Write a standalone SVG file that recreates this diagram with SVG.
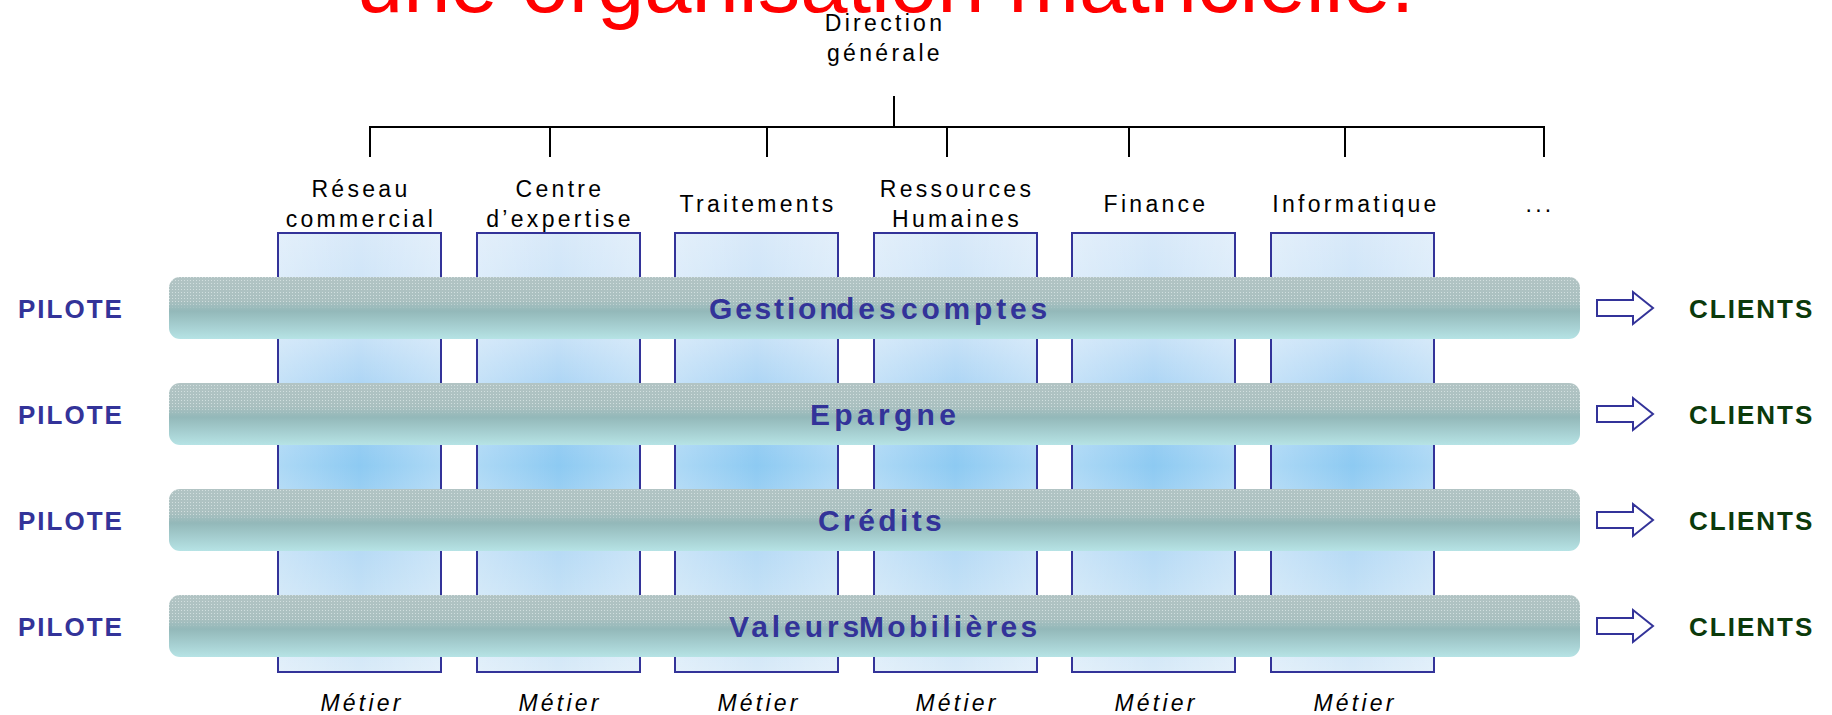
<svg xmlns="http://www.w3.org/2000/svg" width="1832" height="715" viewBox="0 0 1832 715">
  <style>
    .hdr { font-family: "Liberation Sans", Arial, sans-serif; font-size: 23px; fill: #000; letter-spacing: 3.3px; text-anchor: middle; }
    .metier { font-family: "Liberation Sans", Arial, sans-serif; font-size: 23px; font-style: italic; fill: #000; letter-spacing: 3.2px; text-anchor: middle; }
    .side { font-family: "Liberation Sans", Arial, sans-serif; font-size: 26px; font-weight: bold; letter-spacing: 2px; }
    .pilote { fill: #333399; }
    .clients { fill: #0b3a0b; }
    .barlabel { font-family: "Liberation Sans", Arial, sans-serif; font-size: 30px; font-weight: bold; fill: #333399; }
    .col { fill: url(#colFill); stroke: #333399; stroke-width: 2; }
    .colEdge { fill: url(#colEdges); stroke: none; }
    .bar { fill: url(#barFill); }
    .barTex { fill: url(#dots); }
    .tree { fill: none; stroke: #000; stroke-width: 2; }
    .arrow { fill: #fff; stroke: #333399; stroke-width: 2; stroke-linejoin: miter; }
  </style>
  <defs>
    <linearGradient id="colFill" x1="0" y1="0" x2="0" y2="1">
      <stop offset="0" stop-color="#d8e9f9"/>
      <stop offset="0.24" stop-color="#c6e1f7"/>
      <stop offset="0.34" stop-color="#aed6f5"/>
      <stop offset="0.53" stop-color="#8dcaf2"/>
      <stop offset="0.72" stop-color="#b6daf5"/>
      <stop offset="0.83" stop-color="#c4e1f6"/>
      <stop offset="1" stop-color="#d8eaf8"/>
    </linearGradient>
    <linearGradient id="colEdges" x1="0" y1="0" x2="1" y2="0">
      <stop offset="0" stop-color="#ffffff" stop-opacity="0.28"/>
      <stop offset="0.5" stop-color="#ffffff" stop-opacity="0"/>
      <stop offset="1" stop-color="#ffffff" stop-opacity="0.28"/>
    </linearGradient>
    <linearGradient id="barFill" x1="0" y1="0" x2="0" y2="1">
      <stop offset="0" stop-color="#b2c4c4"/>
      <stop offset="0.38" stop-color="#aac0c0"/>
      <stop offset="0.55" stop-color="#93b8b9"/>
      <stop offset="1" stop-color="#b6e3e5"/>
    </linearGradient>
    <!-- fine stipple on the upper half of each band -->
    <pattern id="dots" patternUnits="userSpaceOnUse" width="3" height="3">
      <rect x="1" y="1" width="1" height="1" fill="#e2ecec" fill-opacity="0.7"/>
    </pattern>
    <linearGradient id="texFade" x1="0" y1="0" x2="0" y2="1">
      <stop offset="0" stop-color="#fff"/>
      <stop offset="0.4" stop-color="#fff"/>
      <stop offset="0.52" stop-color="#000"/>
    </linearGradient>
    <mask id="texMask" maskContentUnits="objectBoundingBox">
      <rect x="0" y="0" width="1" height="1" fill="url(#texFade)"/>
    </mask>
    <polygon id="arrowShape" points="1597,300 1633,300 1633,292 1653,308 1633,324 1633,316 1597,316"/>
  </defs>

  <rect width="1832" height="715" fill="#fff"/>

  <!-- Title -->
  <g id="title">
    <text x="356" y="12" font-family="Liberation Sans, Arial, sans-serif" font-size="85" fill="#ff0000">une organisation matricielle.</text>
  </g>

  <!-- Top of the hierarchy -->
  <g id="direction-generale">
    <text class="hdr" x="885" y="31">Direction</text>
    <text class="hdr" x="885" y="61">générale</text>
  </g>

  <!-- Hierarchy lines -->
  <g id="connectors">
    <path class="tree" d="M894,96 V127 M370,157 V127 H1544 V157 M550,127 V157 M767,127 V157 M947,127 V157 M1129,127 V157 M1345,127 V157"/>
  </g>

  <!-- Business-line columns -->
  <g id="col-reseau">
    <rect class="col" x="278" y="233" width="163" height="439"/>
    <rect class="colEdge" x="279" y="234" width="161" height="437"/>
    <text class="hdr" x="361" y="197">Réseau</text>
    <text class="hdr" x="361" y="227">commercial</text>
    <text class="metier" x="362" y="711">Métier</text>
  </g>
  <g id="col-expertise">
    <rect class="col" x="477" y="233" width="163" height="439"/>
    <rect class="colEdge" x="478" y="234" width="161" height="437"/>
    <text class="hdr" x="560" y="197">Centre</text>
    <text class="hdr" x="560" y="227">d’expertise</text>
    <text class="metier" x="560" y="711">Métier</text>
  </g>
  <g id="col-traitements">
    <rect class="col" x="675" y="233" width="163" height="439"/>
    <rect class="colEdge" x="676" y="234" width="161" height="437"/>
    <text class="hdr" x="758" y="212">Traitements</text>
    <text class="metier" x="759" y="711">Métier</text>
  </g>
  <g id="col-rh">
    <rect class="col" x="874" y="233" width="163" height="439"/>
    <rect class="colEdge" x="875" y="234" width="161" height="437"/>
    <text class="hdr" x="957" y="197">Ressources</text>
    <text class="hdr" x="957" y="227">Humaines</text>
    <text class="metier" x="957" y="711">Métier</text>
  </g>
  <g id="col-finance">
    <rect class="col" x="1072" y="233" width="163" height="439"/>
    <rect class="colEdge" x="1073" y="234" width="161" height="437"/>
    <text class="hdr" x="1156" y="212">Finance</text>
    <text class="metier" x="1156" y="711">Métier</text>
  </g>
  <g id="col-informatique">
    <rect class="col" x="1271" y="233" width="163" height="439"/>
    <rect class="colEdge" x="1272" y="234" width="161" height="437"/>
    <text class="hdr" x="1356" y="212">Informatique</text>
    <text class="metier" x="1355" y="711">Métier</text>
  </g>
  <g id="col-autres">
    <text class="hdr" x="1540" y="212">...</text>
  </g>

  <!-- Product lines crossing the columns -->
  <g id="row-comptes">
    <rect class="bar" x="169" y="277" width="1411" height="62" rx="11"/>
    <rect class="barTex" x="169" y="277" width="1411" height="62" rx="11" mask="url(#texMask)"/>
    <text class="barlabel" y="319"><tspan x="709" letter-spacing="2.8">Gestion</tspan><tspan x="836" letter-spacing="4">des</tspan><tspan x="901" letter-spacing="3.8">comptes</tspan></text>
    <text class="side pilote" x="18" y="318">PILOTE</text>
    <use href="#arrowShape" class="arrow"/>
    <text class="side clients" x="1689" y="318">CLIENTS</text>
  </g>
  <g id="row-epargne">
    <rect class="bar" x="169" y="383" width="1411" height="62" rx="11"/>
    <rect class="barTex" x="169" y="383" width="1411" height="62" rx="11" mask="url(#texMask)"/>
    <text class="barlabel" x="810" y="425" letter-spacing="4.3">Epargne</text>
    <text class="side pilote" x="18" y="424">PILOTE</text>
    <use href="#arrowShape" class="arrow" transform="translate(0,106)"/>
    <text class="side clients" x="1689" y="424">CLIENTS</text>
  </g>
  <g id="row-credits">
    <rect class="bar" x="169" y="489" width="1411" height="62" rx="11"/>
    <rect class="barTex" x="169" y="489" width="1411" height="62" rx="11" mask="url(#texMask)"/>
    <text class="barlabel" x="818" y="531" letter-spacing="3.4">Crédits</text>
    <text class="side pilote" x="18" y="530">PILOTE</text>
    <use href="#arrowShape" class="arrow" transform="translate(0,212)"/>
    <text class="side clients" x="1689" y="530">CLIENTS</text>
  </g>
  <g id="row-valeurs">
    <rect class="bar" x="169" y="595" width="1411" height="62" rx="11"/>
    <rect class="barTex" x="169" y="595" width="1411" height="62" rx="11" mask="url(#texMask)"/>
    <text class="barlabel" y="637"><tspan x="729" letter-spacing="3.9">Valeurs</tspan><tspan x="859" letter-spacing="3.3">Mobilières</tspan></text>
    <text class="side pilote" x="18" y="636">PILOTE</text>
    <use href="#arrowShape" class="arrow" transform="translate(0,318)"/>
    <text class="side clients" x="1689" y="636">CLIENTS</text>
  </g>
</svg>
